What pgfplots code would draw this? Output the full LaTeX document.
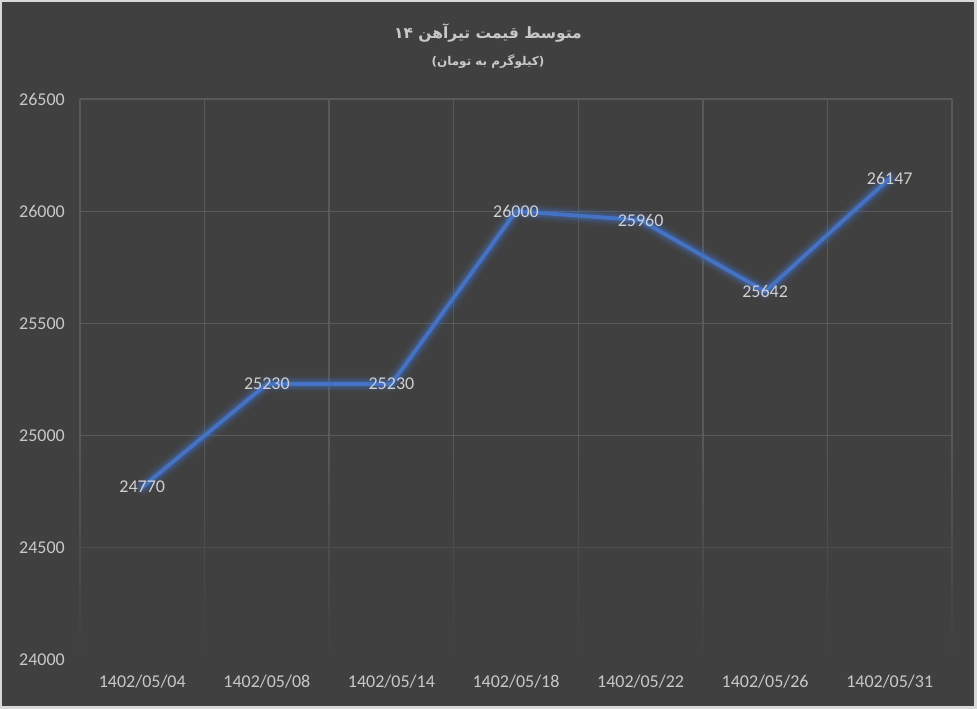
\documentclass[border=0pt]{standalone}
\usepackage{fontspec}
\usepackage{pgfplots}
\pgfplotsset{compat=1.18}
\usetikzlibrary{fadings}
\setmainfont{Carlito}
\newfontfamily\arabicfont[Script=Arabic]{DejaVu Sans}
\TeXXeTstate=1
\definecolor{bg}{HTML}{404040}
\definecolor{frame}{HTML}{D9D9D9}
\definecolor{gridc}{HTML}{595959}
\definecolor{txt}{HTML}{C8C8C8}
\definecolor{lbl}{HTML}{D0D0D0}
\definecolor{lineblue}{HTML}{4472C4}
\tikzfading[name=fadeup, top color=transparent!100, bottom color=transparent!0]
\pgfplotsset{/pgf/number format/1000 sep={}}
\begin{document}
\begin{tikzpicture}
\fill[frame] (-80pt,-49pt) rectangle (897pt,660pt);
\fill[bg] (-78pt,-46pt) rectangle (894pt,658pt);
\begin{axis}[
  scale only axis, width=872pt, height=561pt,
  xmin=-0.5, xmax=6.5, ymin=24000, ymax=26500,
  xtick={0,...,6},
  xticklabels={1402/05/04,1402/05/08,1402/05/14,1402/05/18,1402/05/22,1402/05/26,1402/05/31},
  minor xtick={-0.5,0.5,...,6.5},
  ytick={24000,24500,...,26500},
  scaled y ticks=false,
  /pgf/number format/assume math mode=true,
  major tick length=0pt, minor tick length=0pt,
  axis line style={draw=none},
  xminorgrids=true, xmajorgrids=false, ymajorgrids=true,
  grid style={gridc, line width=1.3pt},
  minor grid style={gridc, line width=1.3pt},
  tick label style={txt, font=\fontsize{18}{20}\selectfont},
  yticklabel style={anchor=east, inner sep=0pt, xshift=-15pt},
  xticklabel style={anchor=north, inner sep=0pt, yshift=-15pt},
  clip=false,
]
\fill[bg, path fading=fadeup] (axis cs:-0.6,23990) rectangle (axis cs:6.6,25000);
\addplot[draw=lineblue, line width=17pt, opacity=0.09, line join=round, line cap=round] coordinates {(0,24770) (1,25230) (2,25230) (3,26000) (4,25960) (5,25642) (6,26147)};
\addplot[draw=lineblue, line width=12pt, opacity=0.16, line join=round, line cap=round] coordinates {(0,24770) (1,25230) (2,25230) (3,26000) (4,25960) (5,25642) (6,26147)};
\addplot[draw=lineblue, line width=8pt, opacity=0.28, line join=round, line cap=round] coordinates {(0,24770) (1,25230) (2,25230) (3,26000) (4,25960) (5,25642) (6,26147)};
\addplot[draw=lineblue, line width=3.8pt, line join=round, line cap=round,
  nodes near coords, every node near coord/.append style={anchor=center, lbl, font=\fontsize{18}{20}\selectfont, inner sep=0pt}]
  coordinates {(0,24770) (1,25230) (2,25230) (3,26000) (4,25960) (5,25642) (6,26147)};
\end{axis}
\node[txt, font=\arabicfont\bfseries\fontsize{15.5}{18}\selectfont] at (408pt,627pt) {\beginR متوسط قیمت تیرآهن \beginL ۱۴\endL\endR};
\node[txt, font=\arabicfont\bfseries\fontsize{12}{14}\selectfont] at (408pt,598pt) {\beginR (کیلوگرم به تومان)\endR};
\end{tikzpicture}
\end{document}
